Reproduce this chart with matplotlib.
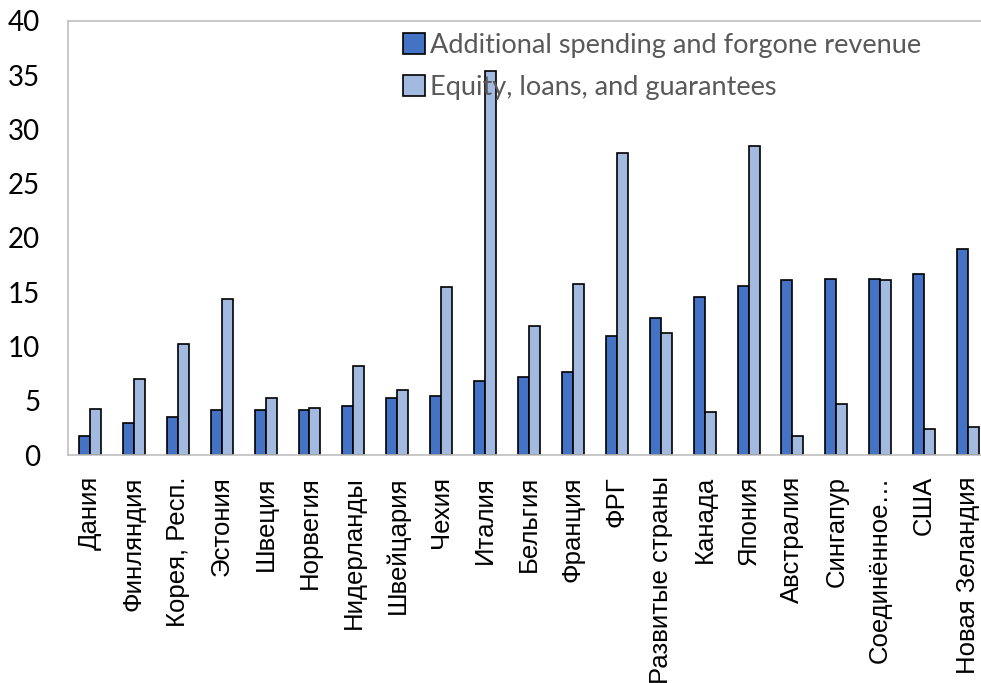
import matplotlib
matplotlib.use("Agg")
import matplotlib.pyplot as plt
import numpy as np

categories = ["Дания", "Финляндия", "Корея, Респ.", "Эстония", "Швеция", "Норвегия",
              "Нидерланды", "Швейцария", "Чехия", "Италия", "Бельгия", "Франция", "ФРГ",
              "Развитые страны", "Канада", "Япония", "Австралия", "Сингапур",
              "Соединённое…", "США", "Новая Зеландия"]
spending = [1.8, 3.0, 3.5, 4.2, 4.2, 4.2, 4.5, 5.3, 5.45, 6.8, 7.2, 7.7, 11.0,
            12.6, 14.6, 15.6, 16.1, 16.2, 16.2, 16.7, 19.0]
equity = [4.3, 7.0, 10.2, 14.4, 5.3, 4.35, 8.2, 6.0, 15.5, 35.4, 11.9, 15.8, 27.8,
          11.3, 4.0, 28.5, 1.8, 4.7, 16.1, 2.4, 2.6]
series_names = ["Additional spending and forgone revenue", "Equity, loans, and guarantees"]
yticks = [0, 5, 10, 15, 20, 25, 30, 35, 40]

fig = plt.figure(figsize=(9.81, 6.83), dpi=100)
ax = fig.add_axes([68/981, 1-455.3/683, (990-68)/981, (455.3-20.7)/683])

x = np.arange(len(categories))
w = 0.25
b1 = ax.bar(x - w/2, spending, w, color="#4472C4", edgecolor="black", linewidth=1.2,
            label=series_names[0])
b2 = ax.bar(x + w/2, equity, w, color="#A2B9E0", edgecolor="black", linewidth=1.2,
            label=series_names[1])

ax.set_xlim(-0.5, len(categories) - 0.5)
ax.set_ylim(0, 40)
ax.set_yticks(yticks)
ax.set_yticklabels([str(t) for t in yticks], fontsize=20, family="Lato")
ax.set_xticks(x)
ax.set_xticklabels(categories, rotation=90, fontsize=18.5, family="Liberation Sans")
ax.tick_params(axis="y", length=0, pad=20)
ax.tick_params(axis="x", length=0, pad=15)
for s in ax.spines.values():
    s.set_color("#BFBFBF")
    s.set_linewidth(1.2)

leg = fig.legend(handles=[b1, b2], labels=series_names, loc="upper left",
                 bbox_to_anchor=(403/981, 1-33/683), frameon=False,
                 prop={"family": "Lato", "size": 19.5}, labelcolor="#595959",
                 handlelength=0.8, handleheight=0.8, handletextpad=0.2,
                 labelspacing=0.62, borderpad=0, borderaxespad=0)

fig.savefig("out.png", dpi=100)
